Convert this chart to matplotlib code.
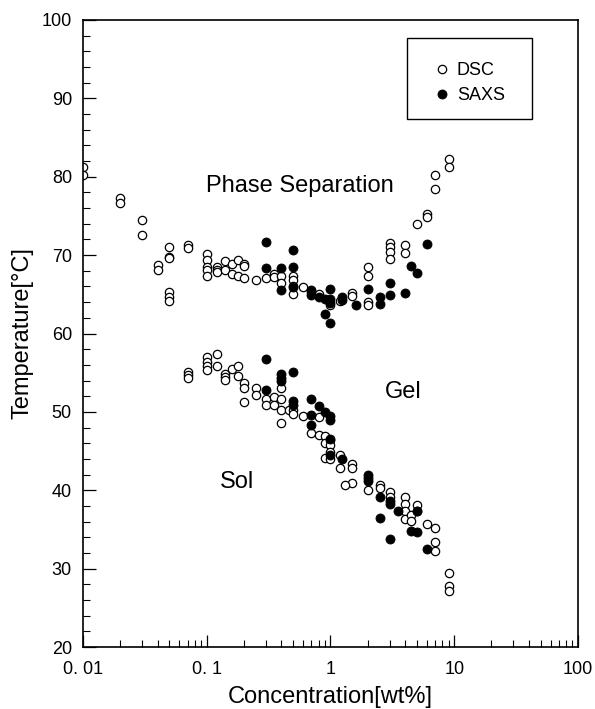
import matplotlib
matplotlib.use("Agg")
import matplotlib.pyplot as plt
from matplotlib.patches import Rectangle
from matplotlib.ticker import FixedLocator, LogLocator, MultipleLocator, NullFormatter

# DSC, phase separation boundary
dsc_sep_conc = [0.01, 0.01, 0.02, 0.02, 0.03, 0.03, 0.04, 0.04,
                0.05, 0.05, 0.05, 0.05, 0.05, 0.05, 0.07, 0.07,
                0.1, 0.1, 0.1, 0.1, 0.1, 0.12, 0.12, 0.12, 0.14, 0.14,
                0.16, 0.16, 0.18, 0.18, 0.2, 0.2, 0.2, 0.25, 0.3, 0.35, 0.35,
                0.4, 0.4, 0.5, 0.5, 0.5, 0.5, 0.6, 0.7, 0.8, 1.0, 1.2,
                1.5, 1.5, 2.0, 2.0, 2.0, 2.0, 3.0, 3.0, 3.0, 3.0,
                4.0, 4.0, 5.0, 6.0, 6.0, 7.0, 7.0, 9.0, 9.0]
dsc_sep_temp = [81.2, 80.2, 77.3, 76.6, 74.5, 72.6, 68.8, 68.1,
                71.0, 69.8, 69.6, 65.3, 64.7, 64.2, 71.3, 70.9,
                70.2, 69.4, 68.5, 68.1, 67.4, 68.5, 68.1, 67.8, 69.3, 68.1,
                68.9, 67.6, 69.4, 67.4, 68.9, 68.6, 67.1, 66.8, 67.1, 67.6, 67.2,
                67.4, 66.4, 67.4, 66.8, 66.1, 65.1, 65.9, 65.3, 65.1, 63.6, 64.1,
                65.2, 64.8, 68.5, 67.4, 64.0, 63.6, 71.6, 71.0, 70.4, 69.5,
                71.3, 70.3, 74.0, 75.3, 74.9, 80.2, 78.5, 82.3, 81.2]

# DSC, sol-gel boundary
dsc_gel_conc = [0.07, 0.07, 0.07, 0.1, 0.1, 0.1, 0.1, 0.12, 0.12,
                0.14, 0.14, 0.14, 0.16, 0.18, 0.18, 0.2, 0.2, 0.2,
                0.25, 0.25, 0.3, 0.3, 0.35, 0.35, 0.4, 0.4, 0.4, 0.4,
                0.46, 0.5, 0.5, 0.6, 0.7, 0.8, 0.8, 0.9, 0.9, 0.9,
                1.0, 1.0, 1.0, 1.0, 1.2, 1.2, 1.5, 1.5, 1.5, 1.3,
                2.0, 2.5, 2.5, 3.0, 3.0, 4.0, 4.0, 4.0, 4.0, 4.5, 4.5,
                5.0, 5.0, 6.0, 7.0, 7.0, 7.0, 9.0, 9.0, 9.0]
dsc_gel_temp = [55.1, 54.7, 54.3, 57.0, 56.4, 55.8, 55.3, 57.4, 55.8,
                54.8, 54.4, 54.1, 55.5, 55.8, 54.6, 53.7, 53.1, 51.3,
                53.0, 52.1, 51.6, 50.9, 51.9, 50.9, 53.1, 51.7, 50.3, 48.6,
                50.3, 50.3, 49.7, 49.5, 47.3, 49.4, 47.1, 46.9, 46.0, 44.1,
                46.4, 45.8, 44.9, 44.0, 44.5, 42.8, 43.4, 42.8, 40.9, 40.7,
                40.0, 40.7, 40.3, 39.8, 39.1, 39.1, 38.3, 37.3, 36.3, 36.8, 36.1,
                38.1, 37.3, 35.7, 35.2, 33.4, 32.2, 29.4, 27.8, 27.2]

# SAXS, phase separation boundary
saxs_sep_conc = [0.3, 0.3, 0.4, 0.4, 0.5, 0.5, 0.5, 0.7, 0.7, 0.8,
                 0.9, 0.9, 1.0, 1.0, 1.0, 1.0, 1.25, 1.25, 1.6, 2.0,
                 2.5, 2.5, 3.0, 3.0, 4.0, 4.5, 5.0, 6.0]
saxs_sep_temp = [71.7, 68.3, 68.3, 65.5, 70.6, 68.5, 65.9, 65.6, 64.9, 64.6,
                 64.4, 62.5, 65.7, 64.4, 63.9, 61.3, 64.6, 64.3, 63.7, 65.7,
                 64.6, 63.8, 66.5, 64.9, 65.2, 68.6, 67.7, 71.4]

# SAXS, sol-gel boundary
saxs_gel_conc = [0.3, 0.3, 0.4, 0.4, 0.4, 0.5, 0.5, 0.5, 0.7, 0.7, 0.7,
                 0.8, 0.9, 1.0, 1.0, 1.0, 1.0, 1.25, 2.0, 2.0, 2.0,
                 2.5, 2.5, 3.0, 3.0, 3.0, 3.5, 4.5, 5.0, 5.0, 6.0]
saxs_gel_temp = [56.8, 52.8, 54.8, 54.3, 53.9, 55.1, 51.4, 50.9, 51.6, 49.6, 48.3,
                 50.8, 50.0, 49.5, 49.0, 46.6, 44.5, 44.0, 41.9, 41.6, 41.2,
                 39.2, 36.5, 38.6, 38.3, 33.8, 37.3, 34.8, 34.7, 37.3, 32.5]

x_ticks = [0.01, 0.1, 1, 10, 100]
x_tick_labels = ["0. 01", "0. 1", "1", "10", "100"]
y_ticks = [20, 30, 40, 50, 60, 70, 80, 90, 100]

plt.rcParams["font.family"] = ["Liberation Sans", "DejaVu Sans"]

fig = plt.figure(figsize=(5.95, 7.09), dpi=100)
ax = fig.add_axes([0.1395, 0.0874, 0.8319, 0.8844])

ax.plot(dsc_sep_conc + dsc_gel_conc, dsc_sep_temp + dsc_gel_temp, "o",
        ms=6, mfc="white", mec="black", mew=0.9, label="DSC", zorder=2)
ax.plot(saxs_sep_conc + saxs_gel_conc, saxs_sep_temp + saxs_gel_temp, "o",
        ms=6.5, mfc="black", mec="black", mew=0.6, label="SAXS", zorder=3)

ax.set_xscale("log")
ax.set_xlim(0.01, 100)
ax.set_ylim(20, 100)
ax.xaxis.set_major_locator(FixedLocator(x_ticks))
ax.set_xticklabels(x_tick_labels, fontsize=13)
ax.xaxis.set_minor_locator(LogLocator(base=10, subs=range(2, 10), numticks=20))
ax.xaxis.set_minor_formatter(NullFormatter())
ax.set_yticks(y_ticks)
ax.set_yticklabels([str(v) for v in y_ticks], fontsize=13)
ax.yaxis.set_minor_locator(MultipleLocator(2))

ax.tick_params(which="major", direction="in", length=9, width=0.9)
ax.tick_params(which="minor", direction="in", length=5, width=0.8)
ax.tick_params(axis="x", which="major", pad=10)
ax.tick_params(axis="y", which="major", pad=8)
ax.tick_params(top=False, right=False, which="both")
for sp in ax.spines.values():
    sp.set_linewidth(1.2)

ax.set_xlabel("Concentration[wt%]", fontsize=17, labelpad=6)
ax.set_ylabel("Temperature[°C]", fontsize=17, labelpad=6)

ax.text(0.57, 78.8, "Phase Separation", fontsize=17, ha="center", va="center")
ax.text(3.85, 52.6, "Gel", fontsize=17, ha="center", va="center")
ax.text(0.175, 41.0, "Sol", fontsize=17, ha="center", va="center")

# legend box drawn separately so its size can be set freely
ax.add_patch(Rectangle((0.6545, 0.842), 0.2525, 0.1293, transform=ax.transAxes,
                       fill=False, edgecolor="black", lw=1.0, zorder=4))
ax.legend(loc="center left", bbox_to_anchor=(0.708, 0.899), frameon=False,
          borderpad=0, borderaxespad=0, handletextpad=0.3, handlelength=1.0,
          labelspacing=0.45, prop={"size": 13})

fig.savefig("out.png", dpi=100)
